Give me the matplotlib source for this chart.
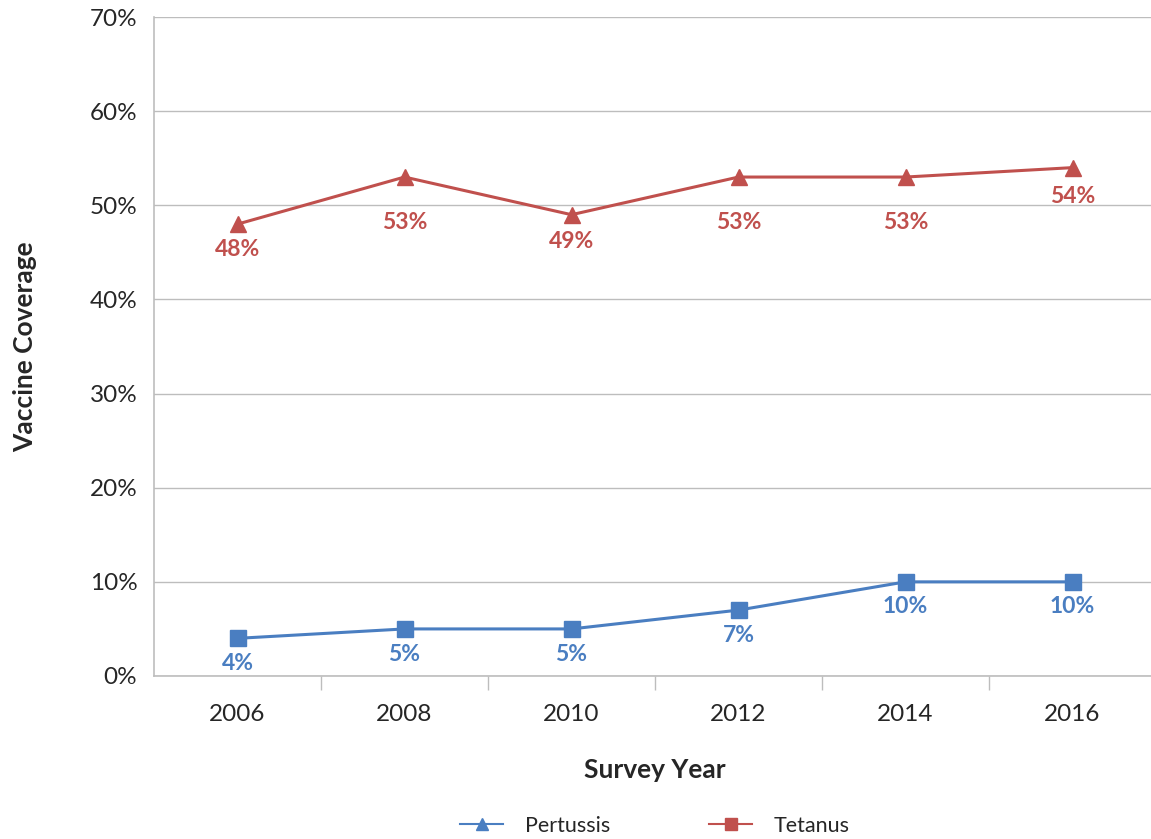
import matplotlib
matplotlib.use("Agg")
import matplotlib.pyplot as plt
from matplotlib.lines import Line2D

years = ["2006", "2008", "2010", "2012", "2014", "2016"]
pertussis = [4, 5, 5, 7, 10, 10]
tetanus = [48, 53, 49, 53, 53, 54]
yticks = [0, 10, 20, 30, 40, 50, 60, 70]

blue = "#4A7EC1"
red = "#C0504D"
grid_col = "#BDBDBD"
txt = "#262626"

plt.rcParams["font.family"] = ["Lato", "DejaVu Sans"]

fig = plt.figure(figsize=(11.51, 8.39), dpi=100)
ax = fig.add_axes([154 / 1151, 1 - 676 / 839, 1002 / 1151, 659 / 839])

x = list(range(len(years)))
ax.plot(x, tetanus, color=red, lw=2.2, marker="^", markersize=12, zorder=3)
ax.plot(x, pertussis, color=blue, lw=2.2, marker="s", markersize=11, zorder=3)

# label offsets below each point (points); the 53% labels sit lower in the original
tet_off = [-11, -25, -12, -25, -25, -13]
for xi, v, off in zip(x, tetanus, tet_off):
    ax.annotate(f"{v}%", (xi, v), xytext=(0, off), textcoords="offset points",
                ha="center", va="top", color=red, fontsize=16.5, fontweight="bold")
for xi, v in zip(x, pertussis):
    ax.annotate(f"{v}%", (xi, v), xytext=(0, -10.5), textcoords="offset points",
                ha="center", va="top", color=blue, fontsize=16.5, fontweight="bold")

ax.set_xlim(-0.5, len(years) - 0.5)
ax.set_ylim(0, 70)
ax.set_yticks(yticks)
ax.set_yticklabels([f"{t}%" for t in yticks], fontsize=17.5, color=txt)
ax.set_xticks(x)
ax.set_xticklabels(years, fontsize=17.5, color=txt)
ax.tick_params(axis="x", which="major", length=0, pad=20)
ax.tick_params(axis="y", length=0, pad=12)
ax.set_xticks([i + 0.5 for i in range(len(years) - 1)], minor=True)
ax.tick_params(axis="x", which="minor", length=10, width=1, color=grid_col)

ax.grid(axis="y", color=grid_col, lw=1)
ax.set_axisbelow(True)
for s in ["top", "right"]:
    ax.spines[s].set_visible(False)
for s in ["left", "bottom"]:
    ax.spines[s].set_color(grid_col)
    ax.spines[s].set_linewidth(1.2)

ax.set_xlabel("Survey Year", fontsize=19, fontweight="bold", color=txt,
              va="center")
ax.xaxis.set_label_coords((655 - 154) / 1002, -(770 - 676) / 659)
ax.set_ylabel("Vaccine Coverage", fontsize=19, fontweight="bold", color=txt,
              va="center")
ax.yaxis.set_label_coords(-(154 - 25) / 1002, 0.5)

# legend markers are swapped in the original chart
handles = [
    Line2D([], [], color=blue, lw=1.5, marker="^", markersize=9),
    Line2D([], [], color=red, lw=1.5, marker="s", markersize=8),
]
fig.legend(handles, ["Pertussis", "Tetanus"], loc="center",
           bbox_to_anchor=(655 / 1151, 1 - 826 / 839), ncol=2, frameon=False,
           fontsize=15.5, columnspacing=4.6, handlelength=2.0, handletextpad=1.0,
           labelcolor=txt)

fig.savefig("out.png", dpi=100)
